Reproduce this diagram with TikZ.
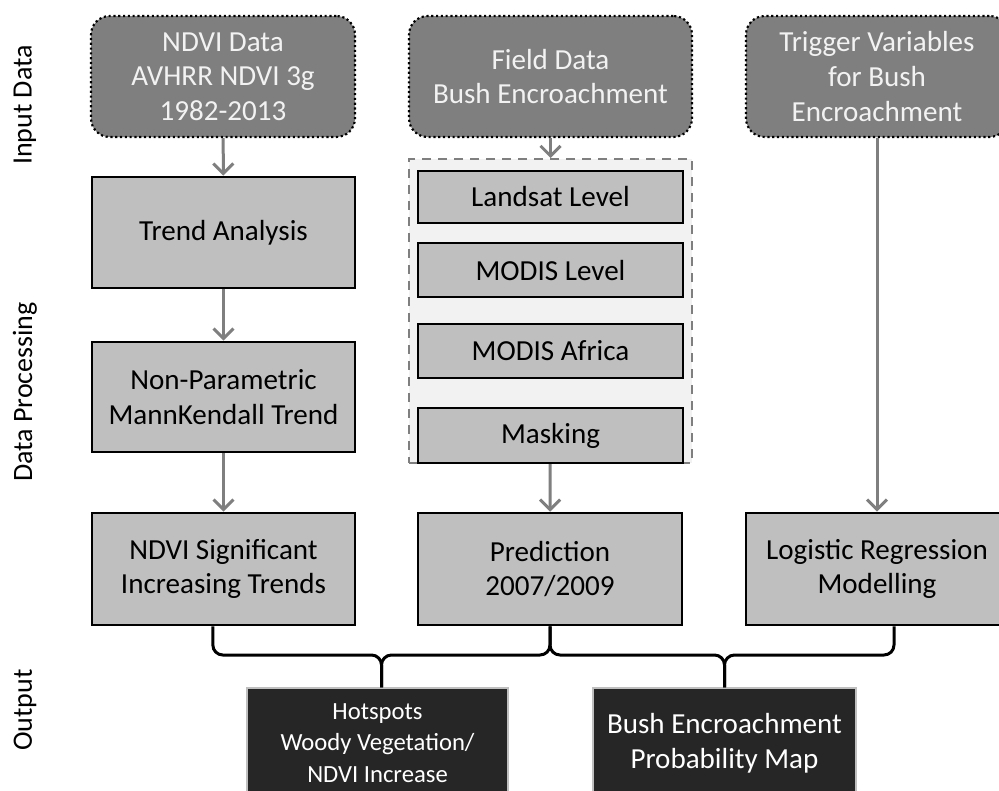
\documentclass[tikz,border=0pt]{standalone}
\usepackage{fontspec}
\setmainfont{Carlito}
\usetikzlibrary{arrows.meta}
\definecolor{ingray}{HTML}{7F7F7F}
\definecolor{procgray}{HTML}{BFBFBF}
\definecolor{outdark}{HTML}{262626}
\definecolor{grouplight}{HTML}{F2F2F2}
\definecolor{paletext}{HTML}{F2F2F2}
\begin{document}
\begin{tikzpicture}[x=0.75pt,y=-0.75pt,
  inbox/.style={draw=black,dotted,line width=1.6pt,rounded corners=14pt,fill=ingray,
    text=paletext,align=center,inner sep=0pt,font=\fontsize{21.8}{26}\selectfont},
  procbox/.style={draw=black,line width=2pt,fill=procgray,align=center,inner sep=0pt,
    font=\fontsize{21.8}{26}\selectfont},
  outbox/.style={draw=procgray,line width=1pt,fill=outdark,text=white,align=center,
    inner sep=0pt,font=\fontsize{21.8}{26}\selectfont},
  groupbox/.style={draw=ingray,dashed,dash pattern=on 7pt off 5pt,line width=1.5pt,
    fill=grouplight,inner sep=0pt},
  sidelabel/.style={rotate=90,font=\fontsize{21}{25}\selectfont},
  flow/.style={draw=ingray,line width=2.25pt,-{Straight Barb[length=7.5pt,width=15pt]}},
  brace/.style={draw=black,line width=2.25pt,rounded corners=7.5pt}]
  \path[fill=white,use as bounding box] (0,0) rectangle (999,790);

  % row labels
  \node[sidelabel] (lin) at (25,105) {Input Data};
  \node[sidelabel] (lproc) at (25,392) {Data Processing};
  \node[sidelabel] (lout) at (25,710) {Output};

  % input data
  \node[inbox,minimum width=198pt,minimum height=90.75pt] (ndvi) at (223,76.5)
    {NDVI Data\\AVHRR NDVI 3g\\1982-2013};
  \node[inbox,minimum width=212.25pt,minimum height=90.75pt] (field) at (550.5,76.5)
    {Field Data\\Bush Encroachment};
  \node[inbox,minimum width=196.5pt,minimum height=90.75pt] (trig) at (877,76.5)
    {Trigger Variables\\for Bush\\Encroachment};

  % data processing, left column
  \node[procbox,minimum width=197.25pt,minimum height=83.25pt] (trend) at (223.5,232.5)
    {Trend Analysis};
  \node[procbox,minimum width=197.25pt,minimum height=82.5pt] (mk) at (223.5,397)
    {Non-Parametric\\MannKendall Trend};
  \node[procbox,minimum width=197.25pt,minimum height=84pt] (sig) at (223.5,569)
    {NDVI Significant\\Increasing Trends};

  % data processing, middle column
  \node[groupbox,minimum width=212.25pt,minimum height=228pt] (sat) at (550.5,311) {};
  \node[procbox,minimum width=198.75pt,minimum height=39pt] (land) at (550.5,197)
    {Landsat Level};
  \node[procbox,minimum width=198.75pt,minimum height=40.5pt] (modl) at (550.5,270)
    {MODIS Level};
  \node[procbox,minimum width=198.75pt,minimum height=40.5pt] (moda) at (550.5,351)
    {MODIS Africa};
  \node[procbox,minimum width=198.75pt,minimum height=41.25pt] (mask) at (550.5,435.5)
    {Masking};
  \node[procbox,minimum width=198pt,minimum height=84pt] (pred) at (550,569)
    {Prediction\\2007/2009};

  % data processing, right column
  \node[procbox,minimum width=196.5pt,minimum height=84pt] (logit) at (877,569)
    {Logistic Regression\\Modelling};

  % output
  \node[outbox,minimum width=195.75pt,minimum height=82.5pt,
    font=\fontsize{18.5}{23.5}\selectfont] (hot) at (377.5,743)
    {Hotspots\\Woody Vegetation/\\NDVI Increase};
  \node[outbox,minimum width=197.25pt,minimum height=82.5pt] (map) at (724.5,743)
    {Bush Encroachment\\Probability Map};

  % arrows
  \draw[flow] (ndvi) -- (trend);
  \draw[flow] (trend) -- (mk);
  \draw[flow] (mk) -- (sig);
  \draw[flow] (field) -- (sat);
  \draw[flow] (sat) -- (pred);
  \draw[flow] (trig) -- (logit);

  % braces
  \coordinate (lvl) at (0,655);
  \draw[brace] ([xshift=-8pt]sig.south) |- ([xshift=3pt]hot.north |- lvl) -- ([xshift=3pt]hot.north);
  \draw[brace] (pred.south) |- ([xshift=3pt]hot.north |- lvl) -- ([xshift=3pt]hot.north);
  \draw[brace] (pred.south) |- (map.north |- lvl) -- (map.north);
  \draw[brace] ([xshift=12.75pt]logit.south) |- (map.north |- lvl) -- (map.north);
\end{tikzpicture}
\end{document}
